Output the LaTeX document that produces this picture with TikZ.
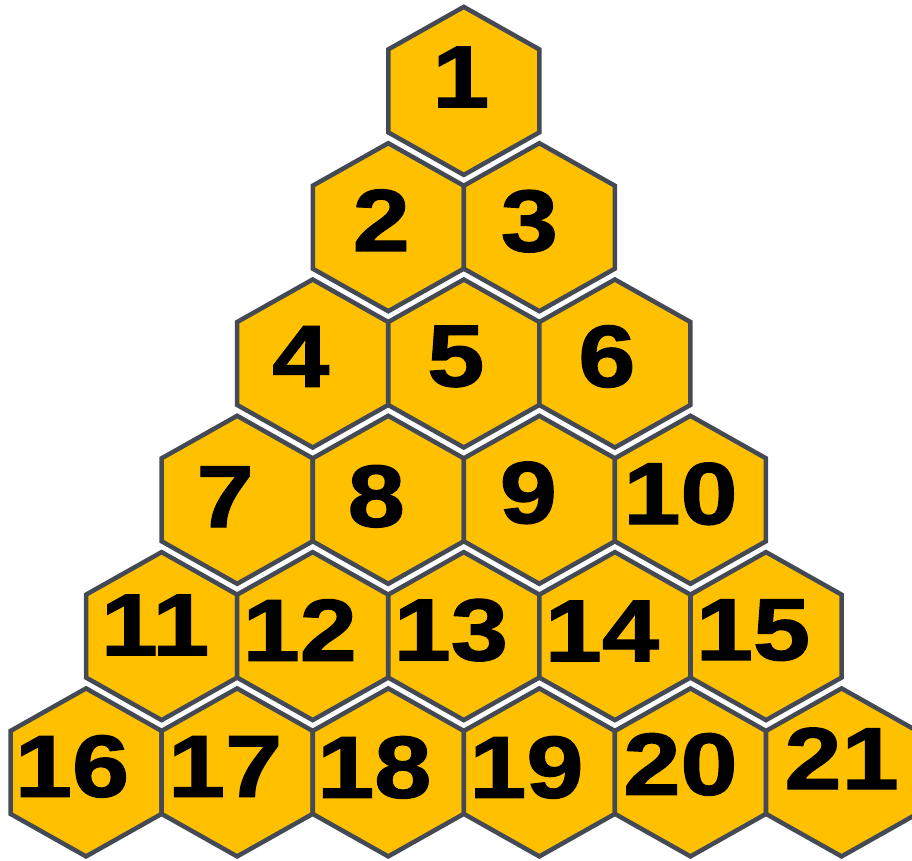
\documentclass[tikz,border=0pt]{standalone}
\usepackage{fontspec}
\newfontfamily\cellfont{Liberation Sans Bold}[FakeStretch=1.17,FakeBold=1.5]
\definecolor{honey}{HTML}{FFC000}
\definecolor{slate}{HTML}{434A55}

\begin{document}
\begin{tikzpicture}[
    x=0.02cm, y=-0.02cm,
    cellline/.style={draw=slate, fill=honey, line width=0.09cm, line join=miter},
    num/.style={font=\cellfont\fontsize{50}{50}\selectfont, text=black, inner sep=0pt},
    pics/cell/.style args={#1/#2}{code={
        \draw[cellline] (0,-84) -- (75.5,-41.5) -- (75.5,41.5) -- (0,84) -- (-75.5,41.5) -- (-75.5,-41.5) -- cycle;
        \node[num] (-n) at (#2) {#1};
    }},
]

\useasboundingbox (0,0) rectangle (912,861);
\clip (0,0) rectangle (912,861);

% Row 1
\pic (c1) at (463.8,90.9) {cell=1/{-3,-14}};

% Row 2
\pic (c2) at (388.25,227.2) {cell=2/{-7,-7}};
\pic (c3) at (539.35,227.2) {cell=3/{-10,-6}};

% Row 3
\pic (c4) at (312.7,363.5) {cell=4/{-12,-7}};
\pic (c5) at (463.8,363.5) {cell=5/{-8,-7}};
\pic (c6) at (614.9,363.5) {cell=6/{-8,-7}};

% Row 4
\pic (c7) at (237.15,499.8) {cell=7/{-12,-3}};
\pic (c8) at (388.25,499.8) {cell=8/{-12,-3.5}};
\pic (c9) at (539.35,499.8) {cell=9/{-11,-7}};
\pic (c10) at (690.45,499.8) {cell=10/{-10,-6}};

% Row 5
\pic (c11) at (161.6,636.1) {cell=11/{-6.5,-11}};
\pic (c12) at (312.7,636.1) {cell=12/{-13,-6}};
\pic (c13) at (463.8,636.1) {cell=13/{-13,-6}};
\pic (c14) at (614.9,636.1) {cell=14/{-13,-5}};
\pic (c15) at (766.0,636.1) {cell=15/{-13,-6}};

% Row 6 (last cell runs past the right edge)
\pic (c16) at (86.05,772.4) {cell=16/{-14,-6}};
\pic (c17) at (237.15,772.4) {cell=17/{-12,-6}};
\pic (c18) at (388.25,772.4) {cell=18/{-14,-5}};
\pic (c19) at (539.35,772.4) {cell=19/{-13,-5}};
\pic (c20) at (690.45,772.4) {cell=20/{-10,-8}};
\pic (c21) at (841.55,772.4) {cell=21/{0,-14}};

\end{tikzpicture}
\end{document}
